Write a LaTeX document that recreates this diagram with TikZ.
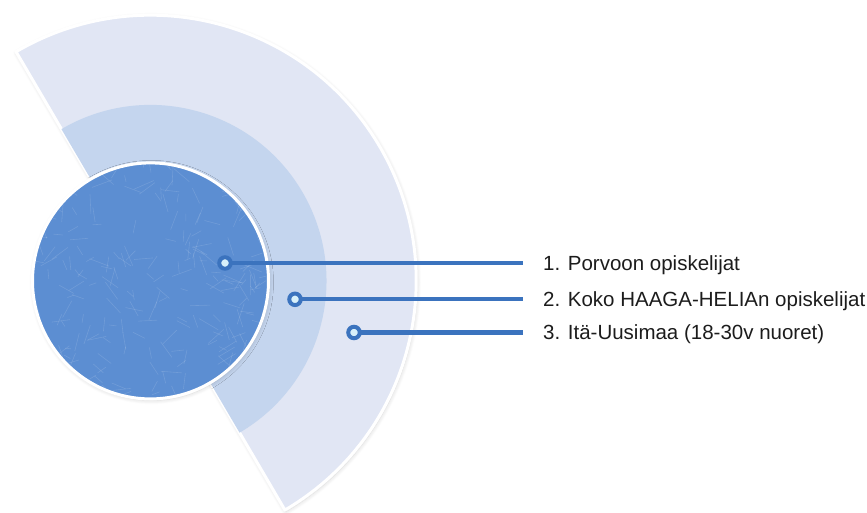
\documentclass[tikz,border=0pt]{standalone}
\usepackage{fontspec}
\setmainfont{Liberation Sans}
\usetikzlibrary{shadows.blur}
\definecolor{outerfill}{HTML}{E1E6F4}
\definecolor{midfill}{HTML}{C4D5EE}
\definecolor{corefill}{HTML}{5C8ED2}
\definecolor{linkblue}{HTML}{3B73BE}
\definecolor{dotfill}{HTML}{D8F0FA}
\definecolor{labeltext}{HTML}{1C1C1C}
\tikzset{
  softshadow/.style={blur shadow={shadow xshift=1pt, shadow yshift=-1.5pt, shadow blur radius=4pt, shadow blur steps=6, shadow opacity=18}},
  ring/.style={fill=#1, draw=white, line width=3pt, line join=round},
  flat/.style={fill=#1, draw=none},
  grain/.style={draw=white, line width=0.6pt, opacity=0.13},
  dotmark/.style={circle, draw=linkblue, fill=dotfill, line width=4pt, minimum size=11.5pt, inner sep=0pt},
  connector/.style={draw=linkblue, line width=4.2pt},
  legend/.style={anchor=base west, inner sep=0pt, text=labeltext, font=\fontsize{20.5}{24}\selectfont}
}
\begin{document}
\begin{tikzpicture}[x=1pt, y=1pt]
\useasboundingbox (0,0) rectangle (867,-513);
\coordinate (C) at (150.5,-280.9);
% outer half disc
\path[ring=outerfill, softshadow] (C) ++(120.4:265.7) arc[start angle=120.4, end angle=-59.6, radius=265.7] -- cycle;
% middle half disc
\path[flat=midfill] (C) ++(120.4:176) arc[start angle=120.4, end angle=-59.6, radius=176] -- cycle;
% core disc
\path[ring=corefill, softshadow] (C) circle[radius=118];
% paper grain on the core disc
\begin{scope}
  \clip (C) circle[radius=116];
  \pgfmathsetseed{17}
  \foreach \k in {1,...,260}{
    \pgfmathsetmacro{\gx}{150.5+118*rand}
    \pgfmathsetmacro{\gy}{-280.9+118*rand}
    \pgfmathsetmacro{\ga}{180*rnd}
    \pgfmathsetmacro{\gl}{6+16*rnd}
    \draw[grain] (\gx,\gy) -- ++(\ga:\gl);
  }
\end{scope}
% labels
\node[legend] (t1) at (543,-270.3) {1. Porvoon opiskelijat};
\node[legend] (t2) at (543,-306.6) {2. Koko HAAGA-HELIAn opiskelijat};
\node[legend] (t3) at (543,-339.8) {3. Itä-Uusimaa (18-30v nuoret)};
% line ends
\coordinate (e1) at (523,-263);
\coordinate (e2) at (523,-299.3);
\coordinate (e3) at (523,-332.5);
% dots
\coordinate (p1) at (225,-263);
\coordinate (p2) at (295,-299.3);
\coordinate (p3) at (354,-332.5);
\draw[connector] (p1) -- (e1);
\draw[connector] (p2) -- (e2);
\draw[connector] (p3) -- (e3);
\node[dotmark] (d1) at (p1) {};
\node[dotmark] (d2) at (p2) {};
\node[dotmark] (d3) at (p3) {};
\end{tikzpicture}
\end{document}
